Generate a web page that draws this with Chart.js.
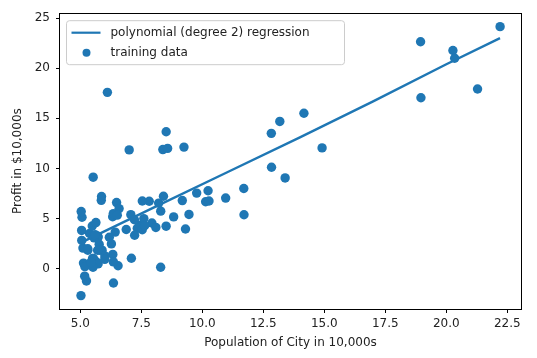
<!DOCTYPE html>
<html>
<head>
<meta charset="utf-8">
<script src="https://cdn.jsdelivr.net/npm/chart.js@4/dist/chart.umd.min.js"></script>
<style>
  html, body { margin: 0; padding: 0; background: #fff; }
  #wrap { width: 537px; height: 358px; }
</style>
</head>
<body>
<div id="wrap"><canvas id="chart" width="537" height="358"></canvas></div>
<script>
// training data: population (10,000s) and profit ($10,000s)
const popX = [6.1101, 5.5277, 8.5186, 7.0032, 5.8598, 8.3829, 7.4764, 8.5781, 6.4862, 5.0546,
  5.7107, 14.164, 5.734, 8.4084, 5.6407, 5.3794, 6.3654, 5.1301, 6.4296, 7.0708,
  6.1891, 20.27, 5.4901, 6.3261, 5.5649, 18.945, 12.828, 10.957, 13.176, 22.203,
  5.2524, 6.5894, 9.2482, 5.8918, 8.2111, 7.9334, 8.0959, 5.6063, 12.836, 6.3534,
  5.4069, 6.8825, 11.708, 5.7737, 7.8247, 7.0931, 5.0702, 5.8014, 11.7, 5.5416,
  7.5402, 5.3077, 7.4239, 7.6031, 6.3328, 6.3589, 6.2742, 5.6397, 9.3102, 9.4536,
  8.8254, 5.1793, 21.279, 14.908, 18.959, 7.2182, 8.2951, 10.236, 5.4994, 20.341,
  10.136, 7.3345, 6.0062, 7.2259, 5.0269, 6.5479, 7.5386, 5.0365, 10.274, 5.1077,
  5.7292, 5.1884, 6.3557, 9.7687, 6.5159, 8.5172, 9.1802, 6.002, 5.5204, 5.0594,
  5.7077, 7.6366, 5.8707, 5.3054, 8.2934, 13.394, 5.4369];
const profitY = [17.592, 9.1302, 13.662, 11.854, 6.8233, 11.886, 4.3483, 12, 6.5987, 3.8166,
  3.2522, 15.505, 3.1551, 7.2258, 0.71618, 3.5129, 5.3048, 0.56077, 3.6518, 5.3893,
  3.1386, 21.767, 4.263, 5.1875, 3.0825, 22.638, 13.501, 7.0467, 14.692, 24.147,
  -1.22, 5.9966, 12.134, 1.8495, 6.5426, 4.5623, 4.1164, 3.3928, 10.117, 5.4974,
  0.55657, 3.9115, 5.3854, 2.4406, 6.7318, 1.0463, 5.1337, 1.844, 8.0043, 1.0179,
  6.7504, 1.8396, 4.2885, 4.9981, 1.4233, -1.4211, 2.4756, 4.6042, 3.9624, 5.4141,
  5.1694, -0.74279, 17.929, 12.054, 17.054, 4.8852, 5.7442, 7.7754, 1.0173, 20.992,
  6.6799, 4.0259, 1.2784, 3.3411, -2.6807, 0.29678, 3.8845, 5.7014, 6.7526, 2.0576,
  0.47953, 0.20421, 0.67861, 7.5435, 5.3436, 4.2415, 6.7981, 0.92695, 0.152, 2.8214,
  1.8451, 4.2959, 7.2029, 1.9869, 0.14454, 9.0551, 0.61705];

// fitted curve
const fitX = [5.03, 8, 11, 14, 17, 20, 22.2];
const fitY = [2.6, 6.1, 9.6, 13.1, 16.7, 20.4, 23.0];

const xTicks = [5.0, 7.5, 10.0, 12.5, 15.0, 17.5, 20.0, 22.5];
const yTicks = [0, 5, 10, 15, 20, 25];

const blue = '#1f77b4';
const font = 'DejaVu Sans';

// full box around the axes, like matplotlib spines
const frame = {
  id: 'frame',
  afterDraw(chart) {
    const { ctx, chartArea: a } = chart;
    ctx.save();
    ctx.strokeStyle = '#000';
    ctx.lineWidth = 1;
    ctx.strokeRect(Math.round(a.left) - 0.5, Math.round(a.top) + 0.5,
      Math.round(a.right - a.left) + 1, Math.round(a.bottom - a.top));
    ctx.restore();
  }
};

// legend box in the upper left corner
const innerLegend = {
  id: 'innerLegend',
  afterDraw(chart) {
    const { ctx, chartArea: a } = chart;
    const x0 = a.left + 6.5, y0 = a.top + 7.5, w = 278, h = 44;
    ctx.save();
    ctx.beginPath();
    ctx.roundRect(x0, y0, w, h, 3);
    ctx.fillStyle = 'rgba(255,255,255,0.8)';
    ctx.fill();
    ctx.strokeStyle = '#cccccc';
    ctx.lineWidth = 1;
    ctx.stroke();

    ctx.strokeStyle = blue;
    ctx.lineWidth = 2.2;
    ctx.beginPath();
    ctx.moveTo(x0 + 5, y0 + 12);
    ctx.lineTo(x0 + 34, y0 + 12);
    ctx.stroke();

    ctx.fillStyle = blue;
    ctx.beginPath();
    ctx.arc(x0 + 20, y0 + 32, 4, 0, Math.PI * 2);
    ctx.fill();

    ctx.fillStyle = '#222';
    ctx.font = '12px "' + font + '"';
    ctx.textBaseline = 'middle';
    ctx.fillText(chart.data.datasets[0].label, x0 + 44, y0 + 12);
    ctx.fillText(chart.data.datasets[1].label, x0 + 44, y0 + 32);
    ctx.restore();
  }
};

const ctx = document.getElementById('chart').getContext('2d');
new Chart(ctx, {
  type: 'scatter',
  data: {
    datasets: [{
      type: 'line',
      label: 'polynomial (degree 2) regression',
      data: fitX.map((x, i) => ({ x: x, y: fitY[i] })),
      borderColor: blue,
      borderWidth: 2.4,
      pointRadius: 0,
      fill: false,
      tension: 0,
      order: 2
    }, {
      label: 'training data',
      data: popX.map((x, i) => ({ x: x, y: profitY[i] })),
      backgroundColor: blue,
      borderWidth: 0,
      pointRadius: 4.7,
      order: 1
    }]
  },
  options: {
    responsive: false,
    animation: false,
    devicePixelRatio: 1,
    layout: { padding: { top: 9, right: 16, left: 0, bottom: 0 } },
    plugins: {
      legend: { display: false },
      tooltip: { enabled: false }
    },
    scales: {
      x: {
        type: 'linear',
        min: 4.168,
        max: 23.06,
        afterFit: s => { s.height = 49; },
        afterBuildTicks: s => { s.ticks = xTicks.map(v => ({ value: v })); },
        border: { display: false },
        grid: { drawOnChartArea: false, tickLength: 4, color: '#000' },
        ticks: {
          padding: 4,
          color: '#222',
          font: { family: font, size: 12 },
          callback: v => v.toFixed(1)
        },
        title: {
          display: true,
          text: 'Population of City in 10,000s',
          color: '#222',
          font: { family: font, size: 12 },
          padding: { top: 0, bottom: 8 }
        }
      },
      y: {
        min: -4.02,
        max: 25.49,
        afterFit: s => { s.width = 60; },
        afterBuildTicks: s => { s.ticks = yTicks.map(v => ({ value: v })); },
        border: { display: false },
        grid: { drawOnChartArea: false, tickLength: 4, color: '#000' },
        ticks: {
          padding: 6,
          color: '#222',
          font: { family: font, size: 12 }
        },
        title: {
          display: true,
          text: 'Profit in $10,000s',
          color: '#222',
          font: { family: font, size: 12 },
          padding: { top: 11, bottom: 0 }
        }
      }
    }
  },
  plugins: [frame, innerLegend]
});
</script>
</body>
</html>
